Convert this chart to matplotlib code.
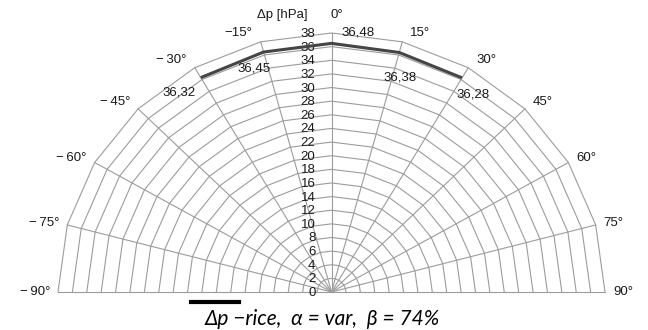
import numpy as np
import matplotlib.pyplot as plt
from matplotlib.lines import Line2D

# spokes and rings of the radar grid
angles = [-90, -75, -60, -45, -30, -15, 0, 15, 30, 45, 60, 75, 90]
angle_labels = ['\u2212\u200990\u00b0', '\u2212\u200975\u00b0', '\u2212\u200960\u00b0',
                '\u2212\u200945\u00b0', '\u2212\u200930\u00b0', '\u221215\u00b0', '0\u00b0',
                '15\u00b0', '30\u00b0', '45\u00b0', '60\u00b0', '75\u00b0', '90\u00b0']
rings = list(range(0, 40, 2))
r_max = 38

# measured series (only -30..30 deg)
data_angles = [-30, -15, 0, 15, 30]
dp = [36.32, 36.45, 36.48, 36.38, 36.28]
dp_labels = ['36,32', '36,45', '36,48', '36,38', '36,28']
# label offsets in pixels (dx, dy)
lab_off = [(-22, -15), (-10, -16), (27, 11), (1, -25), (11, -17)]

plt.rcParams['font.family'] = ['Liberation Sans', 'DejaVu Sans']

fig = plt.figure(figsize=(6.48, 3.30), dpi=100)
ax = fig.add_axes([0, 0, 1, 1])

# pixel layout: centre at (331.5, 292) from top-left, radius 273.5 px horizontal, 259 px vertical
cx, cy, rx, ry = 331.5, 292, 273.5, 259
W, H = 648, 330
ax.set_xlim(-cx / rx * r_max, (W - cx) / rx * r_max)
ax.set_ylim(-(H - cy) / ry * r_max, cy / ry * r_max)
ax.axis('off')

th = np.radians(angles)
grid_c = '#9c9c9c'
for r in rings[1:]:
    ax.plot(r * np.sin(th), r * np.cos(th), color=grid_c, lw=0.8, zorder=1)
for t in th:
    ax.plot([0, r_max * np.sin(t)], [0, r_max * np.cos(t)], color=grid_c, lw=0.8, zorder=1)

txt_c = '#1a1a1a'
fs = 9.5

# radial tick labels left of the 0 deg spoke
for r in rings:
    ax.annotate(str(r), (0, r), xytext=(-16, -1), textcoords='offset pixels',
                ha='right', va='center', fontsize=fs, color=txt_c)

# angle labels
for a, lab in zip(angles, angle_labels):
    t = np.radians(a)
    p = (r_max * np.sin(t), r_max * np.cos(t))
    if a == 0:
        dx, dy, ha = -1, 18, 'left'
    else:
        dx = 8 if a > 0 else -8
        dy = 9 * np.cos(t)
        ha = 'left' if a > 0 else 'right'
    ax.annotate(lab, p, xytext=(dx, dy), textcoords='offset pixels',
                ha=ha, va='center', fontsize=fs, color=txt_c)

ax.annotate('\u0394p [hPa]', (0, r_max), xytext=(-24, 18), textcoords='offset pixels',
            ha='right', va='center', fontsize=fs, color=txt_c)

# data line
dth = np.radians(data_angles)
dpa = np.array(dp)
ax.plot(dpa * np.sin(dth), dpa * np.cos(dth), color='#454545', lw=2.2, zorder=3,
        solid_capstyle='butt')
for a, v, lab, (ox, oy) in zip(dth, dpa, dp_labels, lab_off):
    ax.annotate(lab, (v * np.sin(a), v * np.cos(a)), xytext=(ox, oy),
                textcoords='offset pixels', ha='center', va='center',
                fontsize=fs, color=txt_c)

# legend
fig.add_artist(Line2D([191 / W, 239 / W], [1 - 302 / H, 1 - 302 / H],
                      color='black', lw=3, transform=fig.transFigure))
fig.text(322 / W, 1 - 319 / H, '\u0394p \u2212rice,  \u03b1 = var,  \u03b2 = 74%',
         ha='center', va='center', fontsize=15, style='italic', color='black',
         family=['Lato', 'DejaVu Sans'])

fig.savefig('out.png', dpi=100)
